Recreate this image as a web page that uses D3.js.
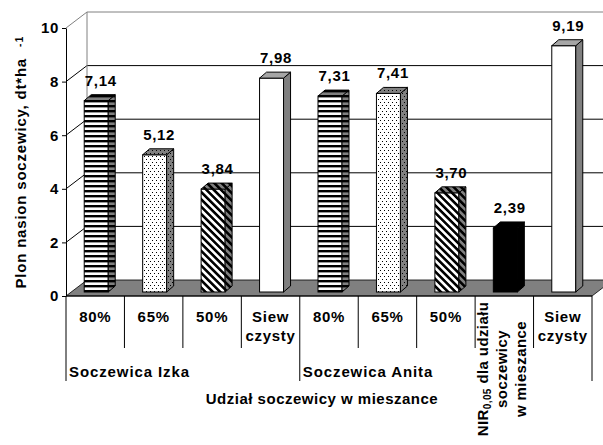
<!DOCTYPE html>
<html>
<head>
<meta charset="utf-8">
<script src="https://cdn.jsdelivr.net/npm/d3@7"></script>
<style>
  body { margin: 0; background: #fff; }
  svg { display: block; }
  text { font-family: "Liberation Sans", Arial, sans-serif; font-weight: bold; fill: #000; }
</style>
</head>
<body>
<svg id="chart" width="603" height="445"></svg>
<script>
// Yield of lentil seed by share of lentil in the mixture
const categories = ["80%", "65%", "50%", "Siew czysty", "80%", "65%", "50%", "NIR", "Siew czysty"];
const values = [7.14, 5.12, 3.84, 7.98, 7.31, 7.41, 3.70, 2.39, 9.19];
const yTicks = [0, 2, 4, 6, 8, 10];
const groupNames = ["Soczewica Izka", "Soczewica Anita"];
const groupStarts = [0, 4];
const groupEnds = [4, 9];
const yTitle = "Plon nasion soczewicy, dt*ha";
const yTitleSup = "-1";
const xTitle = "Udział soczewicy w mieszance";
const nirLines = ["soczewicy", "w mieszance"];

// fill style of each bar
const barStyle = ["hstripe", "dots", "diag", "plain", "hstripe", "dots", "diag", "solid", "plain"];

const svg = d3.select("#chart");
const GRAY = "#808080";

// front plane of the plot box and depth of the 3-D walls
const plotLeft = 66, plotRight = 592, plotBase = 296, plotTop = 28;
const wallDx = 21, wallDy = -16;
// bars sit a little behind the front plane and have their own depth
const barShiftX = 5, barShiftY = -4, barDx = 7, barDy = -6, barW = 24;

const x = d3.scaleBand().domain(d3.range(categories.length)).range([plotLeft, plotRight]);
const y = d3.scaleLinear().domain([0, 10]).range([plotBase, plotTop]);
const bw = x.bandwidth();

// ---- fill patterns ----
const defs = svg.append("defs");
function stripePattern(id, bg) {
  const p = defs.append("pattern").attr("id", id).attr("patternUnits", "userSpaceOnUse")
    .attr("width", 6).attr("height", 5);
  p.append("rect").attr("width", 6).attr("height", 5).attr("fill", bg);
  p.append("rect").attr("width", 6).attr("height", 2.4).attr("fill", "#000");
}
function dotPattern(id, bg) {
  const p = defs.append("pattern").attr("id", id).attr("patternUnits", "userSpaceOnUse")
    .attr("width", 4).attr("height", 6);
  p.append("rect").attr("width", 4).attr("height", 6).attr("fill", bg);
  p.append("rect").attr("x", 0).attr("y", 0).attr("width", 1).attr("height", 1).attr("fill", "#000");
  p.append("rect").attr("x", 2).attr("y", 3).attr("width", 1).attr("height", 1).attr("fill", "#000");
}
function diagPattern(id, bg) {
  const p = defs.append("pattern").attr("id", id).attr("patternUnits", "userSpaceOnUse")
    .attr("width", 5.2).attr("height", 10).attr("patternTransform", "rotate(-45)");
  p.append("rect").attr("width", 5.2).attr("height", 10).attr("fill", bg);
  p.append("rect").attr("width", 2.6).attr("height", 10).attr("fill", "#000");
}
stripePattern("hs-front", "#fff"); stripePattern("hs-side", GRAY);
dotPattern("dt-front", "#fff"); dotPattern("dt-side", GRAY);
diagPattern("dg-front", "#fff"); diagPattern("dg-side", GRAY);

function faceFills(style) {
  switch (style) {
    case "hstripe": return { front: "url(#hs-front)", side: "url(#hs-side)", top: "url(#hs-side)" };
    case "dots": return { front: "url(#dt-front)", side: "url(#dt-side)", top: "url(#dt-side)" };
    case "diag": return { front: "url(#dg-front)", side: "url(#dg-side)", top: "url(#dg-side)" };
    case "solid": return { front: "#000", side: "#000", top: "#000" };
    default: return { front: "#fff", side: GRAY, top: "#a6a6a6" };
  }
}

const g = svg.append("g");

// ---- walls and gridlines ----
const backL = plotLeft + wallDx, backR = plotRight + wallDx;
yTicks.filter(t => t > 0).forEach(t => {
  const c = t === 10 ? GRAY : "#000";
  g.append("line").attr("x1", backL).attr("x2", backR)
    .attr("y1", y(t) + wallDy).attr("y2", y(t) + wallDy).attr("stroke", c);
  g.append("line").attr("x1", plotLeft).attr("y1", y(t))
    .attr("x2", backL).attr("y2", y(t) + wallDy).attr("stroke", c);
});
g.append("line").attr("x1", backL).attr("x2", backL)
  .attr("y1", y(10) + wallDy).attr("y2", y(0) + wallDy).attr("stroke", GRAY);

// floor
g.append("path")
  .attr("d", `M${plotLeft},${y(0)}L${backL},${y(0) + wallDy}L${backR},${y(0) + wallDy}L${plotRight},${y(0)}Z`)
  .attr("fill", GRAY).attr("stroke", "#000").attr("stroke-width", 0.8);

// ---- bars ----
const bars = g.selectAll("g.bar").data(values).join("g").attr("class", "bar");
bars.each(function (v, i) {
  const sel = d3.select(this);
  const f = faceFills(barStyle[i]);
  const fl = x(i) + (bw - barW) / 2 - 4 + barShiftX;
  const fr = fl + barW;
  const fb = y(0) + barShiftY;
  const ft = y(v) + barShiftY;
  sel.append("rect").attr("x", fl).attr("y", ft).attr("width", barW).attr("height", fb - ft)
    .attr("fill", f.front).attr("stroke", "#000");
  sel.append("path")
    .attr("d", `M${fr},${ft}L${fr + barDx},${ft + barDy}L${fr + barDx},${fb + barDy}L${fr},${fb}Z`)
    .attr("fill", f.side).attr("stroke", "#000");
  sel.append("path")
    .attr("d", `M${fl},${ft}L${fl + barDx},${ft + barDy}L${fr + barDx},${ft + barDy}L${fr},${ft}Z`)
    .attr("fill", f.top).attr("stroke", "#000");
  sel.append("text")
    .attr("x", fl + (barW + barDx) / 2 + 1)
    .attr("y", ft + barDy - 9)
    .attr("text-anchor", "middle")
    .attr("font-size", 15)
    .attr("letter-spacing", 0.7)
    .text(d3.format(".2f")(v).replace(".", ","));
});

// ---- value axis ----
const yAxis = d3.axisLeft(y).tickValues(yTicks).tickSize(4).tickSizeOuter(0).tickPadding(3)
  .tickFormat(d3.format("d"));
const ya = svg.append("g").attr("transform", `translate(${plotLeft},0)`).call(yAxis);
ya.select(".domain").attr("stroke", "#000");
ya.selectAll(".tick line").attr("stroke", "#000");
ya.selectAll(".tick text").attr("font-size", 15).attr("font-family", null)
  .attr("letter-spacing", 0.7).attr("fill", "#000");

// ---- category axis ----
svg.append("line").attr("x1", plotLeft).attr("x2", plotRight)
  .attr("y1", plotBase).attr("y2", plotBase).attr("stroke", "#000");
d3.range(categories.length + 1).forEach(k => {
  const xx = k < categories.length ? x(k) : plotRight;
  const isGroup = groupStarts.includes(k) || groupEnds.includes(k);
  svg.append("line").attr("x1", xx).attr("x2", xx)
    .attr("y1", plotBase).attr("y2", isGroup ? 381 : 348).attr("stroke", "#000");
});

categories.forEach((c, i) => {
  const cx = x(i) + bw / 2;
  if (c === "NIR") {
    // rotated three-line note about the LSD value
    const lines = [null].concat(nirLines);
    const xs = [488, 507, 526];
    lines.forEach((ln, j) => {
      const t = svg.append("text")
        .attr("transform", `translate(${xs[j]},369) rotate(-90)`)
        .attr("text-anchor", "middle")
        .attr("font-size", 15)
        .attr("letter-spacing", 0.4);
      if (ln === null) {
        t.append("tspan").text("NIR");
        t.append("tspan").attr("font-size", 10).attr("dy", 3).text("0,05");
        t.append("tspan").attr("dy", -3).text(" dla udziału");
      } else {
        t.text(ln);
      }
    });
    return;
  }
  c.split(" ").forEach((p, j) => {
    svg.append("text").attr("x", cx).attr("y", 322 + j * 19)
      .attr("text-anchor", "middle").attr("font-size", 15).attr("letter-spacing", 0.7)
      .text(p);
  });
});

groupNames.forEach((name, k) => {
  svg.append("text").attr("x", x(groupStarts[k]) + 3).attr("y", 377)
    .attr("font-size", 15).attr("letter-spacing", 0.9).text(name);
});

svg.append("text").attr("x", 322).attr("y", 404).attr("text-anchor", "middle")
  .attr("font-size", 15).attr("letter-spacing", 0.5).text(xTitle);

// ---- value axis title ----
svg.append("text").attr("transform", "translate(26,58) rotate(-90)")
  .attr("text-anchor", "end").attr("font-size", 15).attr("letter-spacing", 0.8).text(yTitle);
svg.append("text").attr("transform", "translate(23,47) rotate(-90)")
  .attr("text-anchor", "start").attr("font-size", 10).attr("letter-spacing", 1.5).text(yTitleSup);
</script>
</body>
</html>
